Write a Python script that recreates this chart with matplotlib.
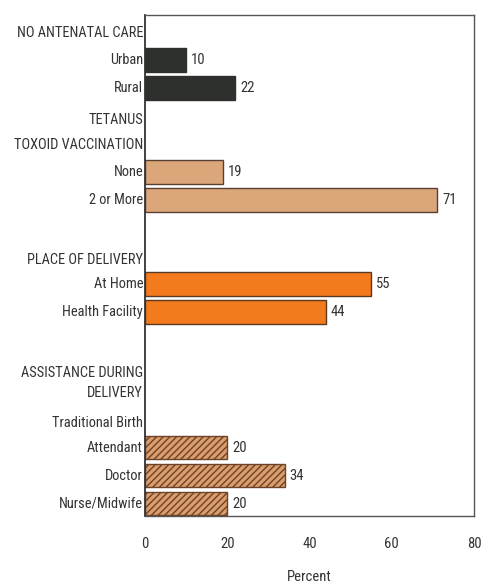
import matplotlib
matplotlib.use("Agg")
import matplotlib.pyplot as plt
from matplotlib import font_manager

# ---- data ----
categories = ["Urban", "Rural", "None", "2 or More", "At Home", "Health Facility",
              "Attendant", "Doctor", "Nurse/Midwife"]
values = [10, 22, 19, 71, 55, 44, 20, 34, 20]
groups = ["antenatal", "antenatal", "tetanus", "tetanus", "place", "place",
          "assist", "assist", "assist"]
headers = ["NO ANTENATAL CARE", "TETANUS", "TOXOID VACCINATION", "PLACE OF DELIVERY",
           "ASSISTANCE DURING", "DELIVERY", "Traditional Birth"]
xticks = [0, 20, 40, 60, 80]
xlabel = "Percent"

# ---- layout (row positions, top to bottom) ----
rows = [0, 1, 4, 5, 8, 9, 13.85, 14.85, 15.85]
header_rows = [-0.96, 2.14, 3.04, 7.14, 11.18, 11.9, 12.96]

fam = []
names = {f.name for f in font_manager.fontManager.ttflist}
for n in ["Liberation Sans Narrow", "Roboto Condensed", "DejaVu Sans"]:
    if n in names:
        fam.append(n)
plt.rcParams['font.family'] = fam + ["DejaVu Sans"]
plt.rcParams['hatch.linewidth'] = 1.0

styles = {
    "antenatal": dict(color="#2e302d", hatch=None, edge="#2e302d"),
    "tetanus": dict(color="#dca67b", hatch=None, edge="#5a4030"),
    "place": dict(color="#f47a1e", hatch=None, edge="#5a3a20"),
    "assist": dict(color="#d99e6c", hatch="/////", edge="#6e4228"),
}

LBL = 10.4
fig = plt.figure(figsize=(4.83, 5.86), dpi=100)
ax = fig.add_axes([145/483, (586-516)/586, (474-145)/483, (516-15)/586])

for cat, v, g, r in zip(categories, values, groups, rows):
    s = styles[g]
    ax.barh(r, v, height=0.84, color=s["color"], edgecolor=s["edge"],
            hatch=s["hatch"], linewidth=1.0)
    ax.text(v + 1.2, r, str(v), va="center", ha="left", fontsize=10.5, color="#333333")
    ax.text(-0.006, r, cat, transform=ax.get_yaxis_transform(), ha="right",
            va="center", fontsize=LBL, color="#333333")

for h, r in zip(headers, header_rows):
    ax.text(-0.006, r, h, transform=ax.get_yaxis_transform(), ha="right",
            va="center", fontsize=LBL, color="#333333")

ax.set_xlim(0, 80)
ax.set_ylim(16.29, -1.6)
ax.set_yticks([])
ax.set_xticks(xticks)
ax.set_xticklabels([str(t) for t in xticks], fontsize=10.5, color="#333333")
ax.tick_params(axis="x", length=0, pad=15)
ax.set_xlabel(xlabel, fontsize=10.5, color="#333333", labelpad=14)
for sp in ax.spines.values():
    sp.set_color("#555555")
    sp.set_linewidth(1.0)
ax.spines["left"].set_color("#333333")
ax.spines["left"].set_linewidth(1.3)

fig.savefig("out.png", dpi=100)
